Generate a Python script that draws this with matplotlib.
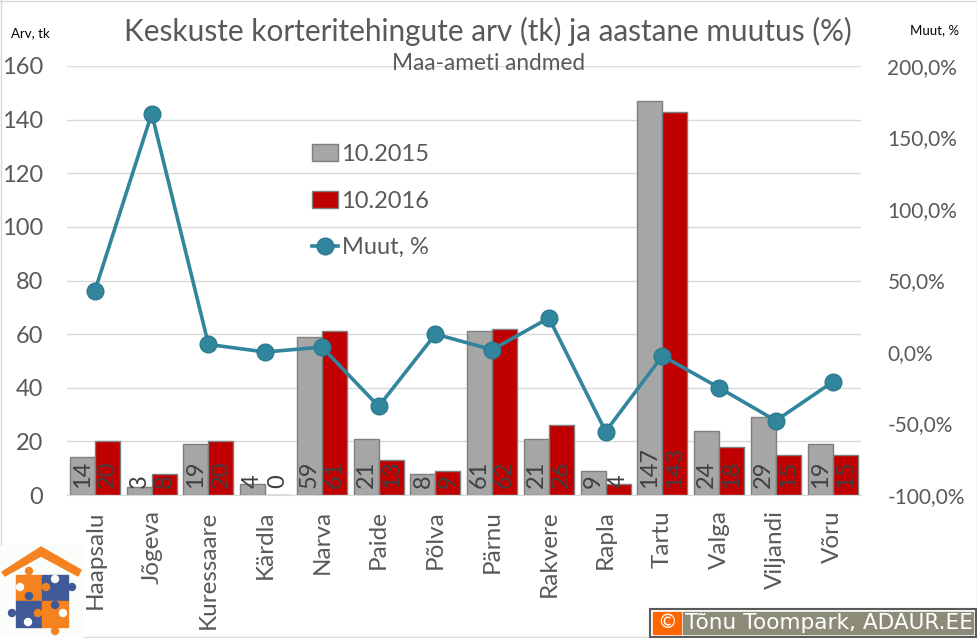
#!/usr/bin/env python3
"""Keskuste korteritehingud: bars for two months, yearly change on second axis."""
import numpy as np
import matplotlib
matplotlib.use("Agg")
import matplotlib.pyplot as plt
from matplotlib.patches import Polygon, Rectangle, Circle

plt.rcParams["font.family"] = ["Lato", "DejaVu Sans"]

towns = ["Haapsalu", "Jõgeva", "Kuressaare", "Kärdla", "Narva", "Paide", "Põlva",
         "Pärnu", "Rakvere", "Rapla", "Tartu", "Valga", "Viljandi", "Võru"]
arv_2015 = [14, 3, 19, 4, 59, 21, 8, 61, 21, 9, 147, 24, 29, 19]
arv_2016 = [20, 8, 20, 0, 61, 13, 9, 62, 26, 4, 143, 18, 15, 15]
muut = [43, 166.7, 5.3, 0, 3.4, -38, 12.5, 1.6, 23.8, -55.6, -2.7, -25, -48, -21]
left_ticks = [0, 20, 40, 60, 80, 100, 120, 140, 160]
right_ticks = [-100, -50, 0, 50, 100, 150, 200]

TXT = "#595959"
GREY = "#a6a6a6"
RED = "#c00000"
TEAL = "#31859c"
W, H = 977, 638

fig = plt.figure(figsize=(W / 100, H / 100), dpi=100)
ax = fig.add_axes([66.6 / W, 1 - 495 / H, (861 - 66.6) / W, (495 - 66) / H])
x = np.arange(len(towns))
bw = 0.44

ax.bar(x - bw / 2, arv_2015, bw, color=GREY, edgecolor="#7f7f7f", linewidth=1, label="10.2015", zorder=2)
ax.bar(x + bw / 2, arv_2016, bw, color=RED, edgecolor="#7f7f7f", linewidth=1, label="10.2016", zorder=2)
ax.set_xlim(-0.5, len(towns) - 0.5)
ax.set_ylim(0, 160)
ax.set_yticks(left_ticks)
ax.set_xticks(x)
ax.set_xticklabels(towns, rotation=90, fontsize=17.5, color=TXT)
ax.tick_params(axis="x", length=0, pad=11)
ax.tick_params(axis="y", length=0, pad=17, labelsize=17, labelcolor=TXT)
ax.grid(axis="y", color="#d9d9d9", linewidth=1, zorder=0)
ax.set_axisbelow(True)
for s in ["top", "left", "right"]:
    ax.spines[s].set_visible(False)
ax.spines["bottom"].set_color("#d9d9d9")

for xi, a, b in zip(x, arv_2015, arv_2016):
    ax.annotate(str(a), (xi - bw / 2, 0), xytext=(0, 5), textcoords="offset points", rotation=90,
                ha="center", va="bottom", fontsize=17, color="#404040", zorder=5)
    ax.annotate(str(b), (xi + bw / 2, 0), xytext=(0, 5), textcoords="offset points", rotation=90,
                ha="center", va="bottom", fontsize=17, color="#404040", zorder=5)

ax2 = ax.twinx()
ax2.plot(x, muut, color=TEAL, linewidth=2.6, marker="o", markersize=12, markerfacecolor=TEAL,
         markeredgecolor="#2a7a90", markeredgewidth=1, label="Muut, %", zorder=4)
ax2.set_ylim(-100, 200)
ax2.set_yticks(right_ticks)
ax2.set_yticklabels([f"{t},0%" for t in right_ticks])
ax2.tick_params(axis="y", length=0, pad=19, labelsize=15, labelcolor=TXT)
for s in ax2.spines.values():
    s.set_visible(False)

# legend sits inside the plot, three evenly spaced rows
handles = ax.get_legend_handles_labels()[0] + ax2.get_legend_handles_labels()[0]
labels = ["10.2015", "10.2016", "Muut, %"]
ax2.legend(handles, labels, loc="upper left", bbox_to_anchor=(245.4 / 794.4, 1 - 78 / 429), frameon=False,
           fontsize=17, labelcolor=TXT, handlelength=1.1, handletextpad=0.15, labelspacing=1.08,
           borderaxespad=0, borderpad=0)

fig.text(488 / W, 1 - 31 / H, "Keskuste korteritehingute arv (tk) ja aastane muutus (%)",
         ha="center", va="center", fontsize=21.4, color=TXT)
fig.text(489 / W, 1 - 64 / H, "Maa-ameti andmed", ha="center", va="center", fontsize=16.3, color=TXT)
fig.text(30 / W, 1 - 33 / H, "Arv, tk", ha="center", va="center", fontsize=9.5, color="black")
fig.text(935 / W, 1 - 30 / H, "Muut, %", ha="center", va="center", fontsize=9.5, color="black")

# overlay in pixel coordinates for chart border, logo and copyright badge
ov = fig.add_axes([0, 0, 1, 1], zorder=10)
ov.set_xlim(0, W)
ov.set_ylim(H, 0)
ov.axis("off")
ov.plot([0.5, 0.5], [0, 545], color="#d9d9d9", linewidth=1)
ov.plot([0, W], [0.5, 0.5], color="#d9d9d9", linewidth=1)
ov.plot([84, 649], [636.5, 636.5], color="#d9d9d9", linewidth=1)
ov.plot([976.5, 976.5], [0, 606], color="#d9d9d9", linewidth=1)

ORANGE = "#f58220"
BLUE = "#3f5a96"
PAPER = "#fbfdfb"
ov.add_patch(Rectangle((0, 544), 84, 94, color=PAPER, zorder=1))
ov.add_patch(Polygon([(2, 572), (41, 547), (81, 570), (78, 576), (41, 556), (5, 576)], color=ORANGE, zorder=2))
ov.add_patch(Rectangle((16, 575), 26, 26, color=ORANGE, zorder=2))
ov.add_patch(Rectangle((42, 575), 26, 26, color=BLUE, zorder=2))
ov.add_patch(Rectangle((16, 601), 26, 26, color=BLUE, zorder=2))
ov.add_patch(Rectangle((42, 601), 26, 26, color=ORANGE, zorder=2))
for cx, cy, col in [(29, 571, ORANGE), (72, 587, BLUE), (12, 613, BLUE), (55, 631, ORANGE),
                    (29, 596, BLUE), (55, 605, BLUE), (38, 613, ORANGE), (46, 587, ORANGE),
                    (20, 587, PAPER), (55, 579, PAPER), (28, 622, PAPER), (63, 613, PAPER)]:
    ov.add_patch(Circle((cx, cy), 3.5, color=col, zorder=3))

ov.add_patch(Rectangle((650, 609), 326, 27.5, facecolor="white", edgecolor="#595959", linewidth=1.5, zorder=2))
ov.add_patch(Rectangle((653, 612), 28, 22, color="#ff6600", zorder=3))
ov.add_patch(Rectangle((683, 612), 290, 22, color="#8b8b78", zorder=3))
ov.text(667, 623, "©", ha="center", va="center", fontsize=14, color="white", family="DejaVu Sans", zorder=4)
ov.text(685, 623, "Tõnu Toompark, ADAUR.EE", ha="left", va="center", fontsize=15.6, color="white",
        family="DejaVu Sans", zorder=4)

fig.savefig("out.png", dpi=100)
